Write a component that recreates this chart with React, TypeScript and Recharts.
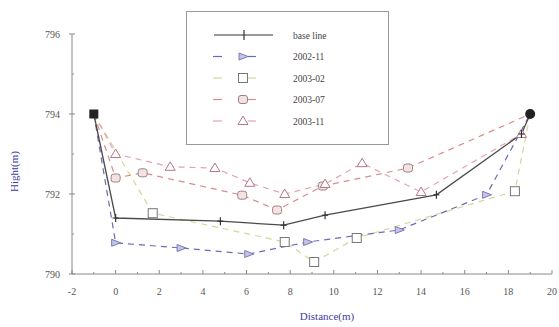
import React from 'react';
import { LineChart, Line, XAxis, YAxis, Legend } from 'recharts';

// ---- data ----
const baseLine = [
  { x: -1, y: 794 }, { x: 0, y: 791.4 }, { x: 4.8, y: 791.32 }, { x: 7.7, y: 791.22 },
  { x: 9.6, y: 791.47 }, { x: 14.7, y: 791.98 }, { x: 18.6, y: 793.5 }, { x: 19, y: 794 },
];
const s2002_11 = [
  { x: -1, y: 794 }, { x: 0, y: 790.78 }, { x: 3.0, y: 790.65 }, { x: 6.1, y: 790.5 },
  { x: 8.8, y: 790.8 }, { x: 13.0, y: 791.1 }, { x: 17.0, y: 791.98 }, { x: 19, y: 794 },
];
const s2003_02 = [
  { x: -1, y: 794 }, { x: 1.7, y: 791.52 }, { x: 7.75, y: 790.8 }, { x: 9.1, y: 790.3 },
  { x: 11.05, y: 790.9 }, { x: 18.3, y: 792.07 }, { x: 19, y: 794 },
];
const s2003_07 = [
  { x: -1, y: 794 }, { x: 0, y: 792.4 }, { x: 1.24, y: 792.53 }, { x: 5.8, y: 791.97 },
  { x: 7.4, y: 791.6 }, { x: 9.5, y: 792.2 }, { x: 13.4, y: 792.65 }, { x: 19, y: 794 },
];
const s2003_11 = [
  { x: -1, y: 794 }, { x: 0, y: 793.0 }, { x: 2.5, y: 792.68 }, { x: 4.55, y: 792.65 },
  { x: 6.15, y: 792.28 }, { x: 7.75, y: 792.0 }, { x: 9.6, y: 792.25 }, { x: 11.3, y: 792.77 },
  { x: 14.0, y: 792.05 }, { x: 18.6, y: 793.5 },
];
const seriesNames = ['base line', '2002-11', '2003-02', '2003-07', '2003-11'];
const xMajorTicks = [-2, 0, 2, 4, 6, 8, 10, 12, 14, 16, 18, 20];
const xAllTicks = [-2, -1, 0, 1, 2, 3, 4, 5, 6, 7, 8, 9, 10, 11, 12, 13, 14, 15, 16, 17, 18, 19, 20];
const yMajorTicks = [790, 792, 794, 796];
const yAllTicks = [790, 791, 792, 793, 794, 795, 796];

const FONT = '"Liberation Serif", "DejaVu Serif", serif';
const AXIS = '#8a8a8a';
const TXT = '#555';
const BLUE_TXT = '#3c3ca0';

const colors = {
  base: '#4a4a4a',
  a: '#6a6ab8',
  b: '#d6d69a',
  c: '#d88c8c',
  d: '#eaa0b4',
};

type MK = 'plus' | 'triR' | 'square' | 'rsq' | 'triU';

function marker(kind: MK, cx: number, cy: number, key?: string) {
  switch (kind) {
    case 'plus':
      return (
        <g key={key}>
          <line x1={cx} y1={cy - 4} x2={cx} y2={cy + 4} stroke="#333" strokeWidth={1.2} />
          <line x1={cx - 3} y1={cy} x2={cx + 3} y2={cy} stroke="#333" strokeWidth={1.2} />
        </g>
      );
    case 'triR':
      return (
        <polygon key={key} points={`${cx - 4},${cy - 3.5} ${cx + 5},${cy} ${cx - 4},${cy + 3.5}`}
          fill="#c4c4e4" stroke="#7a7ab8" strokeWidth={1} />
      );
    case 'square':
      return <rect key={key} x={cx - 4.5} y={cy - 4.5} width={9} height={9} fill="#fff" stroke="#777" strokeWidth={1} />;
    case 'rsq':
      return <rect key={key} x={cx - 4.5} y={cy - 4} width={9} height={8} rx={2.5} fill="#f2e2e2" stroke="#a08088" strokeWidth={1} />;
    case 'triU':
      return (
        <polygon key={key} points={`${cx},${cy - 5} ${cx + 5},${cy + 3.5} ${cx - 5},${cy + 3.5}`}
          fill="#fff" stroke="#b07a88" strokeWidth={1} />
      );
  }
  return null;
}

const makeDot = (kind: MK, n: number) => (props: any) => {
  const { cx, cy, index } = props;
  const k = `${kind}-${index}`;
  if (index === 0 || (index === n - 1 && props.payload && props.payload.x === 19 && props.payload.y === 794)) {
    return <g key={k} />;
  }
  return marker(kind, cx, cy, k);
};

const baseDot = (props: any) => {
  const { cx, cy, index } = props;
  const k = `base-${index}`;
  if (index === 0) return <rect key={k} x={cx - 4.5} y={cy - 4.5} width={9} height={9} fill="#222" />;
  if (index === baseLine.length - 1) return <circle key={k} cx={cx} cy={cy} r={5} fill="#222" />;
  return marker('plus', cx, cy, k);
};

const XTick = (props: any) => {
  const { x, y, payload } = props;
  const v = payload.value;
  const major = xMajorTicks.includes(v);
  return (
    <g>
      <line x1={x} y1={y} x2={x} y2={y - (major ? 4 : 2)} stroke={AXIS} />
      {major && (
        <text x={x} y={y + 21} textAnchor="middle" fontFamily={FONT} fontSize={10} fill={TXT}>{String(v)}</text>
      )}
    </g>
  );
};

const YTick = (props: any) => {
  const { x, y, payload } = props;
  const v = payload.value;
  const major = yMajorTicks.includes(v);
  return (
    <g>
      <line x1={x - (major ? 3 : 0)} y1={y} x2={x + (major ? 3 : 2)} y2={y} stroke={AXIS} />
      {major && (
        <text x={x - 12} y={y + 3.5} textAnchor="end" fontFamily={FONT} fontSize={10} fill={TXT}>{String(v)}</text>
      )}
    </g>
  );
};

const legendKinds: { kind: MK | 'base'; color: string; dashed: boolean }[] = [
  { kind: 'base', color: '#333', dashed: false },
  { kind: 'triR', color: colors.a, dashed: true },
  { kind: 'square', color: colors.b, dashed: true },
  { kind: 'rsq', color: colors.c, dashed: true },
  { kind: 'triU', color: colors.d, dashed: true },
];

const renderLegend = () => (
  <svg width={203} height={134} style={{ display: 'block' }}>
    <rect x={0.5} y={0.5} width={202} height={133} fill="#fff" stroke="#999" strokeWidth={1} />
    {seriesNames.map((name, i) => {
      const cy = 24 + i * 21.5;
      const lk = legendKinds[i];
      return (
        <g key={name}>
          {lk.kind === 'base' ? (
            <>
              <line x1={28} y1={cy} x2={87} y2={cy} stroke="#333" strokeWidth={1.2} />
              <line x1={58} y1={cy - 5} x2={58} y2={cy + 5} stroke="#333" strokeWidth={1.2} />
            </>
          ) : (
            <>
              <line x1={27} y1={cy} x2={36} y2={cy} stroke={lk.color} strokeWidth={1.2} />
              <line x1={62} y1={cy} x2={70} y2={cy} stroke={lk.color} strokeWidth={1.2} />
              {marker(lk.kind as MK, 57, cy)}
            </>
          )}
          <text x={107} y={cy + 3.5} fontFamily={FONT} fontSize={9.5} fill="#444">{name}</text>
        </g>
      );
    })}
  </svg>
);

export default function App() {
  return (
    <div style={{ position: 'absolute', left: 0, top: 0, width: 559, height: 327, background: '#fff' }}>
      <LineChart width={559} height={327} margin={{ top: 34, right: 7, bottom: 13, left: 0 }}>
        <XAxis
          type="number" dataKey="x" domain={[-2, 20]} ticks={xAllTicks} interval={0}
          tick={<XTick />} tickLine={false} tickSize={0} tickMargin={0}
          axisLine={{ stroke: AXIS }} height={40} allowDataOverflow
          label={{ value: 'Distance(m)', position: 'insideBottom', offset: -6, dx: 15, fill: BLUE_TXT, fontFamily: FONT, fontSize: 11 }}
        />
        <YAxis
          type="number" dataKey="y" domain={[790, 796]} ticks={yAllTicks} interval={0}
          tick={<YTick />} tickLine={false} tickSize={0} tickMargin={0}
          axisLine={{ stroke: AXIS }} width={72} allowDataOverflow
          label={{ value: 'Hight(m)', angle: -90, position: 'insideLeft', offset: 14, fill: BLUE_TXT, fontFamily: FONT, fontSize: 11, dy: 38 }}
        />
        <Legend layout="vertical" align="center" verticalAlign="middle" content={renderLegend}
          wrapperStyle={{ position: 'absolute', left: 186, top: 11, width: 203, height: 134 }} />
        <Line data={s2003_02} dataKey="y" name="2003-02" stroke={colors.b} strokeWidth={1.2} strokeDasharray="6 5"
          dot={makeDot('square', s2003_02.length)} isAnimationActive={false} legendType="none" />
        <Line data={s2002_11} dataKey="y" name="2002-11" stroke={colors.a} strokeWidth={1.2} strokeDasharray="6 5"
          dot={makeDot('triR', s2002_11.length)} isAnimationActive={false} legendType="none" />
        <Line data={s2003_07} dataKey="y" name="2003-07" stroke={colors.c} strokeWidth={1.2} strokeDasharray="6 5"
          dot={makeDot('rsq', s2003_07.length)} isAnimationActive={false} legendType="none" />
        <Line data={s2003_11} dataKey="y" name="2003-11" stroke={colors.d} strokeWidth={1.2} strokeDasharray="6 5"
          dot={makeDot('triU', s2003_11.length)} isAnimationActive={false} legendType="none" />
        <Line data={baseLine} dataKey="y" name="base line" stroke={colors.base} strokeWidth={1.3}
          dot={baseDot} isAnimationActive={false} legendType="none" />
      </LineChart>
    </div>
  );
}
